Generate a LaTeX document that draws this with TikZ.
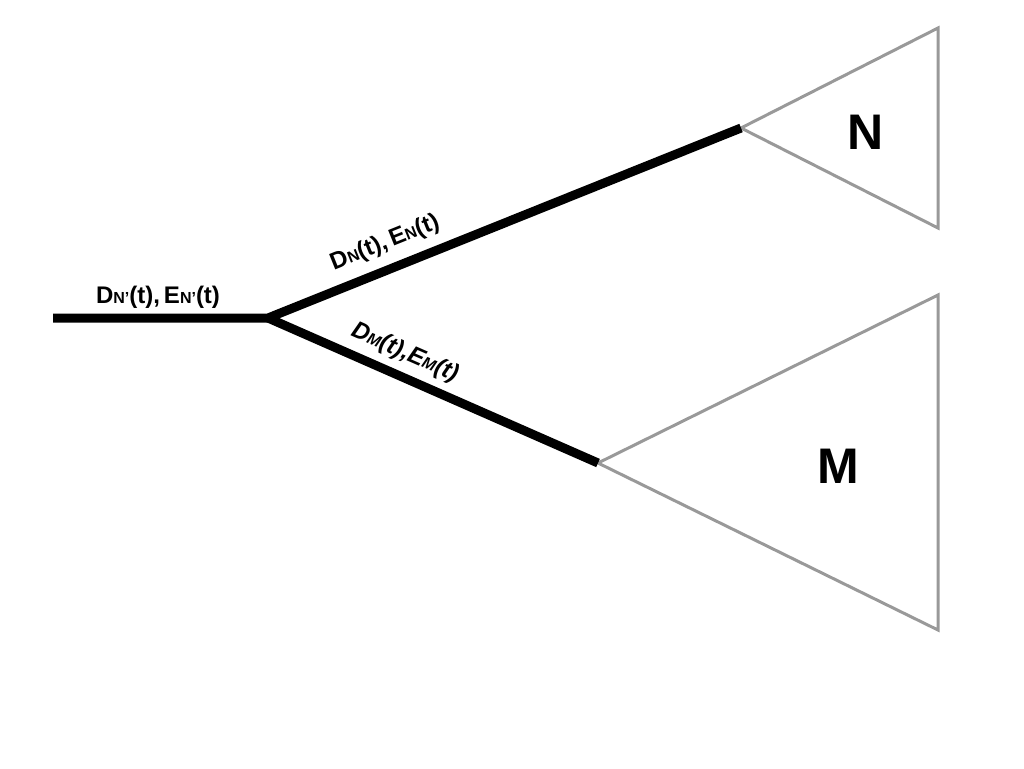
\documentclass[tikz,border=0pt]{standalone}
\usepackage{fontspec}
\setmainfont{Liberation Sans}
\newcommand{\mysub}[1]{{\fontsize{16}{16}\selectfont #1}}
\definecolor{trigray}{HTML}{999999}
\begin{document}
\begin{tikzpicture}[x=1pt,y=-1pt,
  branch/.style={line width=9pt,black},
  tri/.style={draw=trigray,line width=3pt,line join=miter},
  lab/.style={font=\bfseries\fontsize{24}{24}\selectfont,inner sep=0pt},
  big/.style={font=\bfseries\fontsize{50}{50}\selectfont,inner sep=0pt}]
\useasboundingbox (0,0) rectangle (1024,768);
\coordinate (root) at (53,318);
\coordinate (fork) at (268,318);
\coordinate (nA) at (741,128);
\coordinate (mA) at (598,463);
\coordinate (n1) at (938,28);
\coordinate (n2) at (938,228);
\coordinate (m1) at (938,295);
\coordinate (m2) at (938,630);
\draw[tri] (nA) -- (n1) -- (n2) -- cycle;
\draw[tri] (mA) -- (m1) -- (m2) -- cycle;
\draw[branch,line join=miter] (root) -- (fork) -- (nA);
\draw[branch] (fork) -- (mA);
\node[lab] (l0) at (158,297) {D\mysub{N'}(t),\,E\mysub{N'}(t)};
\node[lab,rotate=21.9] (l1) at (385,243) {D\mysub{N}(t),\,E\mysub{N}(t)};
\node[lab,rotate=-23.7] (l2) at (405,353) {\itshape D\mysub{M}(t),E\mysub{M}(t)};
\node[big] (N) at (866,132) {N};
\node[big] (M) at (838,466) {M};
\end{tikzpicture}
\end{document}
